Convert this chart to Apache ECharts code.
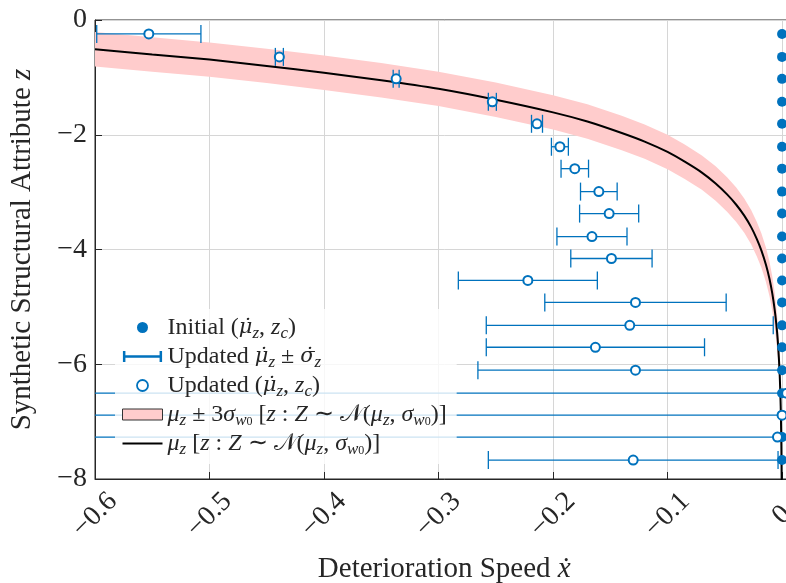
<!DOCTYPE html>
<html>
<head>
<meta charset="utf-8">
<script src="https://cdn.jsdelivr.net/npm/echarts@6.0.0/dist/echarts.min.js"></script>
<style>
  html, body { margin: 0; padding: 0; background: #fff; overflow: hidden; }
  #chart { width: 800px; height: 583px; }
</style>
</head>
<body>
<div id="chart"></div>
<script>
// rows z_c (shared by initial and updated points)
var zc = [-0.243, -0.643, -1.026, -1.426, -1.809, -2.209, -2.591, -2.991, -3.374, -3.774,
          -4.157, -4.539, -4.922, -5.322, -5.704, -6.104, -6.504, -6.887, -7.270, -7.670];
// initial speeds
var initX = [0, 0, 0, 0, 0, 0, 0, 0, 0, 0, 0, 0, 0, 0, 0, 0, 0, 0, 0, 0];
// updated speeds and their sigma
var updX = [-0.553, -0.439, -0.337, -0.253, -0.214, -0.194, -0.181, -0.160, -0.151, -0.166,
            -0.149, -0.222, -0.128, -0.133, -0.163, -0.128, 0.004, 0.000, -0.004, -0.130];
var updSigma = [0.0455, 0.0035, 0.0026, 0.0035, 0.0048, 0.0074, 0.012, 0.016, 0.0258, 0.0306,
                0.0355, 0.0607, 0.0792, 0.1253, 0.0953, 0.1376, 0.80, 0.75, 0.70, 0.1265];
// mean curve and the +/- 3 sigma band
var meanX = [-0.6, -0.55, -0.5, -0.45, -0.4, -0.35, -0.3, -0.25, -0.2, -0.17, -0.14, -0.12,
             -0.1, -0.085, -0.07, -0.058, -0.048, -0.04, -0.033, -0.027, -0.022, -0.018,
             -0.014, -0.011, -0.0085, -0.0065, -0.005, -0.0038, -0.0028, -0.002, -0.0014,
             -0.001, -0.0006, -0.0003];
var meanZ = [-0.51, -0.60, -0.69, -0.80, -0.92, -1.05, -1.20, -1.39, -1.61, -1.77, -1.97, -2.12,
             -2.30, -2.47, -2.66, -2.85, -3.04, -3.22, -3.41, -3.61, -3.82, -4.02,
             -4.27, -4.51, -4.77, -5.04, -5.30, -5.57, -5.88, -6.21, -6.57,
             -6.91, -7.42, -8.11];
var bandUpper = [-0.21, -0.30, -0.39, -0.50, -0.62, -0.75, -0.90, -1.09, -1.31, -1.47, -1.67, -1.82,
                 -2.00, -2.17, -2.36, -2.55, -2.74, -2.92, -3.11, -3.31, -3.52, -3.72,
                 -3.97, -4.21, -4.47, -4.74, -5.00, -5.27, -5.58, -5.91, -6.27,
                 -6.61, -7.12, -7.81];
var bandLower = [-0.81, -0.90, -0.99, -1.10, -1.22, -1.35, -1.50, -1.69, -1.91, -2.07, -2.27, -2.42,
                 -2.60, -2.77, -2.96, -3.15, -3.34, -3.52, -3.71, -3.91, -4.12, -4.32,
                 -4.57, -4.81, -5.07, -5.34, -5.60, -5.87, -6.18, -6.51, -6.87,
                 -7.21, -7.72, -8.41];

var blue = '#0072BD';
var ink = '#262626';
var serif = 'Liberation Serif';

var legendText = {
  init: 'Initial ({d|μ̇}{s|z}, {i|z}{s|c})',
  bars: 'Updated {d|μ̇}{s|z} ± {d|σ̇}{s|z}',
  upd: 'Updated ({d|μ̇}{s|z}, {i|z}{s|c})',
  band: '{i|μ}{s|z} ± 3{i|σ}{s|w}{t|0} [{i|z} : {i|Z} ∼ 𝒩({i|μ}{s|z}, {i|σ}{s|w}{t|0})]',
  mean: '{i|μ}{s|z} [{i|z} : {i|Z} ∼ 𝒩({i|μ}{s|z}, {i|σ}{s|w}{t|0})]'
};

function minusFmt(v) {
  if (v === 0) return '0';
  var d = Math.abs(v) < 1 ? 1 : 0;
  return '−' + Math.abs(v).toFixed(d);
}

// horizontal error bar with caps
function renderBar(params, api) {
  var x = api.value(0), z = api.value(1), s = api.value(2);
  var a = api.coord([x - s, z]);
  var b = api.coord([x + s, z]);
  var h = 9;
  var st = { stroke: blue, lineWidth: 1.3 };
  return {
    type: 'group',
    children: [
      { type: 'line', shape: { x1: a[0], y1: a[1], x2: b[0], y2: b[1] }, style: st },
      { type: 'line', shape: { x1: a[0], y1: a[1] - h, x2: a[0], y2: a[1] + h }, style: st },
      { type: 'line', shape: { x1: b[0], y1: b[1] - h, x2: b[0], y2: b[1] + h }, style: st }
    ]
  };
}

// band polygon: upper edge then lower edge reversed
function renderBand(params, api) {
  if (params.dataIndex !== 0) return;
  var pts = [];
  for (var i = 0; i < meanX.length; i++) pts.push(api.coord([meanX[i], bandUpper[i]]));
  for (var j = meanX.length - 1; j >= 0; j--) pts.push(api.coord([meanX[j], bandLower[j]]));
  return { type: 'polygon', shape: { points: pts }, style: { fill: '#FFCCCC' } };
}

var chart = echarts.init(document.getElementById('chart'));

chart.setOption({
  animation: false,
  backgroundColor: '#fff',
  grid: {
    left: 95, top: 20, width: 698.5, height: 459,
    outerBoundsMode: 'none',
    show: true, borderColor: ink, borderWidth: 1
  },
  legend: {
    orient: 'vertical',
    left: 115,
    top: 309,
    padding: [4, 10, 6, 7],
    itemGap: 0,
    itemWidth: 40,
    itemHeight: 11,
    selectedMode: false,
    backgroundColor: 'rgba(255,255,255,0.8)',
    textStyle: {
      fontFamily: serif, fontSize: 24, color: ink, lineHeight: 29,
      rich: {
        i: { fontFamily: serif, fontStyle: 'italic', fontSize: 24, lineHeight: 29 },
        d: { fontFamily: 'DejaVu Serif', fontStyle: 'italic', fontSize: 21, lineHeight: 29 },
        s: { fontFamily: serif, fontStyle: 'italic', fontSize: 17, lineHeight: 17, verticalAlign: 'top', padding: [12, 0, 0, 0] },
        t: { fontFamily: serif, fontSize: 12, lineHeight: 12, verticalAlign: 'top', padding: [16, 0, 0, 0] }
      }
    },
    formatter: function (name) { return legendText[name]; },
    data: [
      { name: 'init', icon: 'circle', itemStyle: { color: blue } },
      { name: 'bars', icon: 'path://M0,0V12M0,6H40M40,0V12', itemStyle: { color: 'rgba(0,0,0,0)', borderColor: blue, borderWidth: 2.5 } },
      { name: 'upd', icon: 'circle', itemStyle: { color: '#fff', borderColor: blue, borderWidth: 1.8 } },
      { name: 'band', icon: 'rect', itemStyle: { color: '#FFCCCC', borderColor: '#333', borderWidth: 1 } },
      { name: 'mean', icon: 'path://M0,0H40V2H0Z', itemStyle: { color: '#000', borderWidth: 0 } }
    ]
  },
  xAxis: {
    type: 'value',
    min: -0.6,
    max: 0.01,
    interval: 0.1,
    name: 'Deterioration Speed {i|ẋ}',
    nameLocation: 'middle',
    nameGap: 76,
    nameTextStyle: {
      fontFamily: serif, fontSize: 29, color: ink,
      rich: { i: { fontFamily: serif, fontStyle: 'italic', fontSize: 29 } }
    },
    axisLine: { show: true, onZero: false, lineStyle: { color: ink, width: 1 } },
    axisTick: { show: true, inside: true, length: 7, lineStyle: { color: ink } },
    axisLabel: {
      rotate: 45, align: 'center', verticalAlign: 'middle', margin: 36,
      showMaxLabel: false,
      fontFamily: serif, fontSize: 28, color: ink,
      formatter: minusFmt
    },
    splitLine: { show: true, lineStyle: { color: '#d6d6d6', width: 1 } }
  },
  yAxis: {
    type: 'value',
    min: -8,
    max: 0,
    interval: 2,
    name: 'Synthetic Structural Attribute {i|z}',
    nameLocation: 'middle',
    nameRotate: 90,
    nameGap: 58,
    nameTextStyle: {
      fontFamily: serif, fontSize: 29, color: ink,
      rich: { i: { fontFamily: serif, fontStyle: 'italic', fontSize: 29 } }
    },
    axisLine: { show: true, onZero: false, lineStyle: { color: ink, width: 1 } },
    axisTick: { show: true, inside: true, length: 7, lineStyle: { color: ink } },
    axisLabel: { margin: 8, fontFamily: serif, fontSize: 28, color: ink, formatter: minusFmt },
    splitLine: { show: true, lineStyle: { color: '#d6d6d6', width: 1 } }
  },
  series: [
    {
      name: 'band',
      type: 'custom',
      clip: true,
      renderItem: renderBand,
      data: meanX.map(function (x, i) { return [x, bandUpper[i], bandLower[i]]; }),
      encode: { x: 0, y: [1, 2] },
      itemStyle: { color: '#FFCCCC' },
      silent: true,
      z: 1
    },
    {
      name: 'mean',
      type: 'line',
      data: meanX.map(function (x, i) { return [x, meanZ[i]]; }),
      symbol: 'none',
      smooth: 0.3,
      clip: true,
      lineStyle: { color: '#000', width: 2 },
      itemStyle: { color: '#000' },
      z: 2
    },
    {
      name: 'bars',
      type: 'custom',
      clip: true,
      renderItem: renderBar,
      data: updX.map(function (x, i) { return [x, zc[i], updSigma[i]]; }),
      encode: { x: 0, y: 1 },
      itemStyle: { color: blue },
      z: 3
    },
    {
      name: 'init',
      type: 'scatter',
      data: initX.map(function (x, i) { return [x, zc[i]]; }),
      symbol: 'circle',
      symbolSize: 10,
      itemStyle: { color: blue, opacity: 1 },
      z: 4
    },
    {
      name: 'upd',
      type: 'scatter',
      data: updX.map(function (x, i) { return [x, zc[i]]; }),
      symbol: 'circle',
      symbolSize: 9,
      itemStyle: { color: '#fff', borderColor: blue, borderWidth: 2, opacity: 1 },
      z: 5
    }
  ]
});
</script>
</body>
</html>
